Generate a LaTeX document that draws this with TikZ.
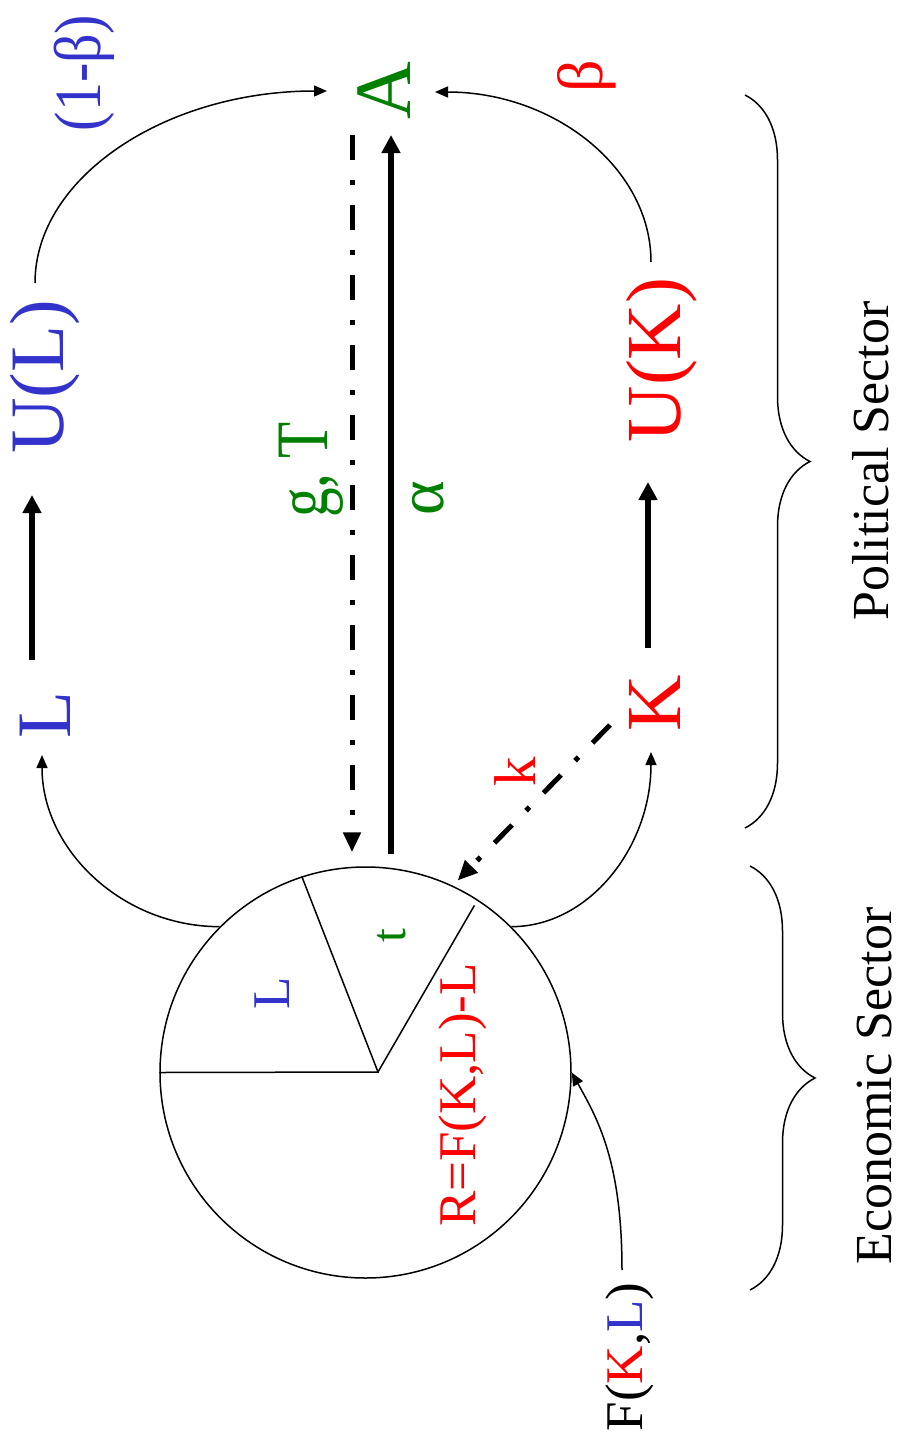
\documentclass[tikz,border=0pt]{standalone}
\usepackage{fontspec}
\setmainfont{Liberation Serif}
\usepackage{graphicx}
\usetikzlibrary{arrows.meta,decorations.pathreplacing,calc}
\definecolor{tblue}{RGB}{51,51,204}
\definecolor{tgreen}{RGB}{0,128,0}
\definecolor{tred}{RGB}{255,0,0}
\newcommand{\fsz}[1]{\fontsize{#1pt}{#1pt}\selectfont}

\begin{document}
\begin{tikzpicture}[x=1pt, y=-1pt,
  lbl/.style={rotate=90, inner sep=0pt, outer sep=0pt, anchor=base},
  thinline/.style={line width=1.5pt},
  curvearrow/.style={line width=1.5pt, -{Triangle[length=13pt,width=11pt]}},
  boldarrow/.style={line width=6pt, -{Triangle[length=18pt,width=18pt]}},
  dasharrow/.style={line width=5pt, dash pattern=on 25pt off 20pt on 5pt off 20pt,
                    -{Triangle[length=20pt,width=17pt]}},
  sectorbrace/.style={line width=1.5pt, decorate, decoration={brace, amplitude=65pt}},
]
\useasboundingbox (0,0) rectangle (898,1433);

% --- labels (all set reading upwards) ---
\node[lbl, text=tgreen] (A)  at (410,91)  {\fsz{80}A};
\node[lbl, text=tblue]  (L)  at (70,715)  {\fsz{77}L};
\node[lbl, text=tblue]  (UL) at (63,377)  {\fsz{77}U(L)};
\node[lbl, text=tred]   (K)  at (680,703) {\fsz{78}K};
\node[lbl, text=tred]   (UK) at (680,360) {\fsz{78}U(K)};
\node[lbl, text=tblue]  (wL) at (100,73)  {\fsz{66}\scalebox{0.88}[1]{(1-β)}};
\node[lbl, text=tred]   (wK) at (602,76)  {\fsz{64}β};
\node[lbl, text=tgreen] (gT) at (327,470) {\fsz{74}\scalebox{0.8}[1]{g, T}};
\node[lbl, text=tgreen] (al) at (443,498) {\fsz{66}α};
\node[lbl, text=tred]   (kl) at (535,772) {\fsz{59}k};

% --- the output pie ---
\node[circle, draw, thinline, minimum size=411pt, inner sep=0pt] (pie) at (365.5,1072.5) {};
\coordinate (hub) at (378,1072);
\draw[thinline] (pie.180) -- (hub) -- (pie.108);
\draw[thinline] (hub) -- ($(hub)!0.966!(pie.57)$);
\node[lbl, text=tblue]  (pL) at (289,993)  {\fsz{53}L};
\node[lbl, text=tgreen] (pt) at (405,936)  {\fsz{50}t};
\node[lbl, text=tred]   (pR) at (475,1095) {\fsz{53}R=F(K,L)-L};
\node[lbl] (F) at (642,1357) {\fsz{53}F(\textcolor{tred}{K},\textcolor{tblue}{L})};

% --- sector labels and braces ---
\node[lbl] (pol) at (888,461)  {\fsz{52}Political Sector};
\node[lbl] (eco) at (891,1086) {\fsz{52}Economic Sector};
\draw[sectorbrace] (745,95) -- (745,828);
\draw[sectorbrace] (750,866) -- (750,1290);

% --- connectors ---
\draw[boldarrow] ([shift={(-38,-55)}]L.base) -- ([shift={(-31,118)}]UL.base);
\draw[boldarrow] ([shift={(-32,-55)}]K.base) -- ([shift={(-32,122)}]UK.base);
\draw[curvearrow] ([shift={(-28,-94)}]UL.base) .. controls +(0,-106) and +(-161,0) .. ([shift={(-83,0)}]A.base);
\draw[curvearrow] ([shift={(-29,-98)}]UK.base) .. controls +(0,-94) and +(119,0) .. ([shift={(25,1)}]A.base);
\draw[curvearrow] (pie.135) .. controls +(-97,0) and +(0,95) .. ([shift={(-28,40)}]L.base);
\draw[curvearrow] (pie.45) .. controls +(77,0) and +(0,96) .. ([shift={(-29,49)}]K.base);
\draw[curvearrow] ([shift={(-20,-87)}]F.base) .. controls +(0,-110) and +(25,45) .. (pie.0);
\draw[dasharrow, shorten >=14pt] ([shift={(-58,44)}]A.base) -- ([xshift=-13.5pt]pie.north);
\draw[boldarrow, shorten <=12pt] ([xshift=25.5pt]pie.north) -- ([shift={(-19,44)}]A.base);
\draw[dasharrow, shorten >=7pt] ([shift={(-70,22)}]K.base) -- (pie.65);
\end{tikzpicture}
\end{document}
